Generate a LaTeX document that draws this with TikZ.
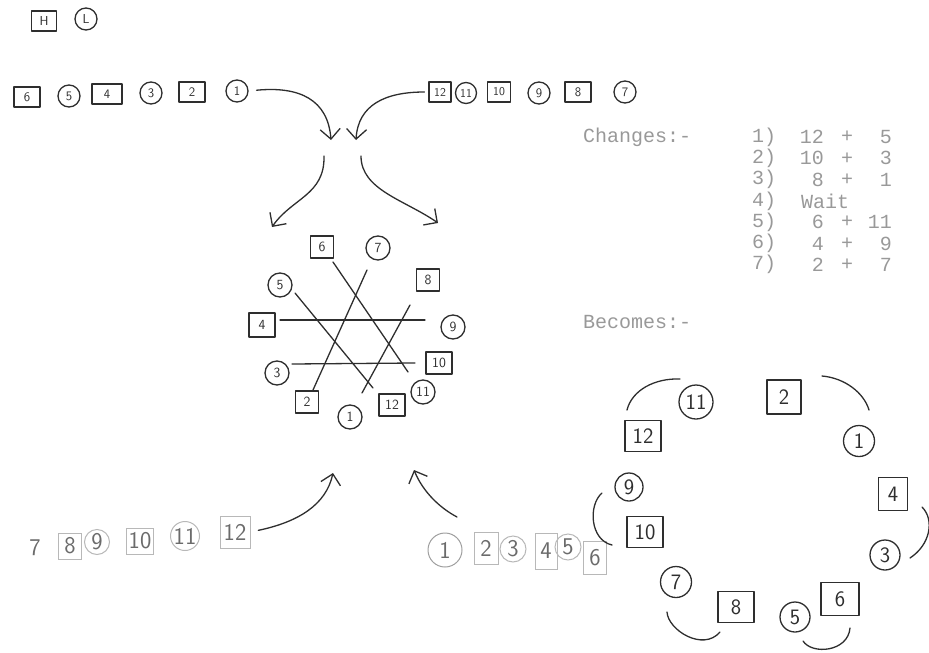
\documentclass[tikz,border=0pt]{standalone}
\usepackage{fontspec}
\setmonofont{Liberation Mono}
\usetikzlibrary{arrows.meta,calc}
\definecolor{ink}{gray}{0.18}
\definecolor{typeink}{gray}{0.6}
\definecolor{faintline}{gray}{0.72}
\definecolor{fainttext}{gray}{0.42}
\newcommand{\hwfont}[1]{\sffamily\fontsize{#1}{#1}\selectfont}

\begin{document}
\begin{tikzpicture}[x=1pt,y=-1pt,
  pen/.style={draw=ink, line width=1.3pt, line cap=round, line join=round},
  sq/.style={pen, rectangle, inner sep=0pt, text=ink},
  rd/.style={pen, circle, inner sep=0pt, text=ink},
  hand/.style={pen, -{Straight Barb[length=10pt,width=20pt,line width=1.3pt]}},
  tsq/.style={sq, minimum width=26pt, minimum height=20pt, font=\hwfont{13}},
  trd/.style={rd, minimum size=22pt, font=\hwfont{13}},
  ssq/.style={sq, minimum width=23pt, minimum height=22pt, font=\hwfont{14}},
  srd/.style={rd, minimum size=24pt, font=\hwfont{14}},
  osq/.style={sq, minimum width=33pt, minimum height=30pt, font=\hwfont{22}},
  ord/.style={rd, minimum size=31pt, font=\hwfont{22}},
  bsq/.style={draw=faintline, line width=1pt, rectangle, inner sep=0pt, text=fainttext,
              minimum width=25pt, minimum height=30pt, font=\hwfont{24}},
  brd/.style={draw=faintline, line width=1pt, circle, inner sep=0pt, text=fainttext,
              minimum size=27pt, font=\hwfont{24}},
  typed/.style={text=typeink, font=\ttfamily\fontsize{20}{20}\selectfont, inner sep=0pt},
  bracket/.style={pen}
]
\useasboundingbox (0,0) rectangle (929,653);

% key: square = H, circle = L
\node[tsq, minimum width=25pt] (keyH) at (44,21) {H};
\node[trd] (keyL) at (86,19) {L};

% first row, 6 down to 1
\node[tsq] (a6) at (27,97) {6};
\node[trd] (a5) at (69,96) {5};
\node[tsq, minimum width=30pt] (a4) at (107,94) {4};
\node[trd] (a3) at (151,93) {3};
\node[tsq] (a2) at (192,92) {2};
\node[trd] (a1) at (237,91) {1};

% second row, 12 down to 7
\node[tsq, minimum width=22pt, font=\hwfont{12}] (b12) at (440,92) {12};
\node[trd, minimum size=21pt, font=\hwfont{12}] (b11) at (466,93) {11};
\node[tsq, minimum width=23pt, font=\hwfont{12}] (b10) at (499,92) {10};
\node[trd] (b9) at (539,93) {9};
\node[tsq] (b8) at (578,92) {8};
\node[trd] (b7) at (625,92) {7};

% merging and splitting arrows
\coordinate (mergeL) at (331,140);
\coordinate (mergeR) at (356,140);
\coordinate (splitL) at (324,156);
\coordinate (splitR) at (361,156);
\coordinate (tipL) at (272,227);
\coordinate (tipR) at (438,223);
\draw[hand, shorten <=8pt] (a1.east) .. controls (300,86) and (328,100) .. (mergeL);
\draw[hand, shorten <=4pt] (b12.west) .. controls (385,92) and (358,105) .. (mergeR);
\draw[hand] (splitL) .. controls (325,195) and (292,198) .. (tipL);
\draw[hand] (splitR) .. controls (361,190) and (405,200) .. (tipR);

% the star of six chords
\node[ssq] (s6) at (322,247) {6};
\node[srd] (s7) at (378,248) {7};
\node[ssq] (s8) at (428,280) {8};
\node[srd] (s9) at (453,327) {9};
\node[ssq, minimum width=26pt] (s10) at (439,363) {10};
\node[srd] (s11) at (423,392) {11};
\node[ssq, minimum width=26pt] (s12) at (392,405) {12};
\node[srd] (s1) at (350,417) {1};
\node[ssq] (s2) at (307,402) {2};
\node[srd] (s3) at (277,373) {3};
\node[ssq, minimum width=26pt, minimum height=24pt] (s4) at (262,325) {4};
\node[srd] (s5) at (280,285) {5};

\draw[pen] ($(s6)+(11,15)$) -- ($(s11)+(-15,-20)$);
\draw[pen] ($(s7)+(-11,22)$) -- ($(s2)+(6,-12)$);
\draw[pen] ($(s5)+(15,8)$) -- ($(s12)+(-19,-17)$);
\draw[pen] ($(s4)+(18,-5)$) -- ($(s9)+(-28,-7)$);
\draw[pen] ($(s3)+(15,-9)$) -- ($(s10)+(-24,0)$);
\draw[pen] ($(s8)+(-18,25)$) -- ($(s1)+(12,-24)$);

% list of changes
\node[typed, anchor=west] (chg) at (583,137) {Changes:-};
\foreach \i/\l/\r in {1/12/5, 2/10/3, 3/8/1, 5/6/11, 6/4/9, 7/2/7}{
  \pgfmathsetmacro{\rowy}{137+21.3*(\i-1)}
  \node[typed, anchor=west] (lab\i) at (752,\rowy) {\i)};
  \node[typed, anchor=east] (lft\i) at (824,\rowy) {\l};
  \node[typed] (pls\i) at (847,\rowy) {+};
  \node[typed, anchor=east] (rgt\i) at (892,\rowy) {\r};
}
\node[typed, anchor=west] (lab4) at (752,201) {4)};
\node[typed, anchor=west] (wait) at (801,201) {Wait};
\node[typed, anchor=west] (bec) at (583,322) {Becomes:-};

% lower left row 7 to 12
\node[text=fainttext, font=\hwfont{24}, inner sep=0pt] (c7) at (35,548) {7};
\node[bsq, minimum width=23pt, minimum height=26pt] (c8) at (70,546) {8};
\node[brd, minimum size=25pt] (c9) at (97,542) {9};
\node[bsq, minimum width=27pt, minimum height=26pt] (c10) at (140,541) {10};
\node[brd, minimum size=29pt] (c11) at (185,536) {11};
\node[bsq, minimum width=30pt, minimum height=32pt] (c12) at (235,532) {12};
\coordinate (upL) at (333,473);
\draw[hand, shorten <=8pt] (c12.east) .. controls (298,522) and (326,505) .. (upL);

% lower middle row 1 to 6
\node[brd, draw=gray!75, minimum size=34pt] (d1) at (445,550) {1};
\node[bsq, minimum width=24pt, minimum height=32pt] (d2) at (486,548) {2};
\node[brd, minimum size=26pt] (d3) at (513,549) {3};
\node[bsq, minimum width=22pt, minimum height=36pt] (d4) at (546,551) {4};
\node[brd, minimum size=26pt] (d5) at (568,547) {5};
\node[bsq, minimum width=23pt, minimum height=33pt] (d6) at (595,558) {6};
\coordinate (upStart) at (457,517);
\coordinate (upR) at (414,470);
\draw[hand] (upStart) .. controls (440,508) and (423,492) .. (upR);

% resulting ring
\node[ord, minimum size=34pt] (r11) at (696,402) {11};
\node[osq, minimum width=34pt, minimum height=34pt] (r2) at (784,397) {2};
\node[ord] (r1) at (859,441) {1};
\node[osq, minimum width=29pt, minimum height=33pt] (r4) at (893,494) {4};
\node[ord, minimum size=30pt] (r3) at (885,555) {3};
\node[osq, minimum width=38pt, minimum height=33pt] (r6) at (840,599) {6};
\node[ord, minimum size=30pt] (r5) at (795,617) {5};
\node[osq, minimum width=36pt, minimum height=31pt] (r8) at (736,607) {8};
\node[ord] (r7) at (676,582) {7};
\node[osq, minimum width=36pt, minimum height=31pt] (r10) at (645,532) {10};
\node[ord, minimum size=28pt] (r9) at (629,487) {9};
\node[osq, minimum width=36pt, minimum height=31pt] (r12) at (643,436) {12};

% brackets joining the pairs of the ring
\coordinate (p1a) at (627,410); \coordinate (p1b) at (680,379);
\coordinate (p2a) at (822,376); \coordinate (p2b) at (869,410);
\coordinate (p3a) at (922,507); \coordinate (p3b) at (910,558);
\coordinate (p4a) at (602,493); \coordinate (p4b) at (612,545);
\coordinate (p5a) at (667,612); \coordinate (p5b) at (720,632);
\coordinate (p6a) at (803,641); \coordinate (p6b) at (850,628);
\draw[bracket] (p1a) .. controls (632,390) and (655,378) .. (p1b);
\draw[bracket] (p2a) .. controls (845,378) and (864,393) .. (p2b);
\draw[bracket] (p3a) .. controls (935,520) and (930,545) .. (p3b);
\draw[bracket] (p4a) .. controls (588,505) and (590,540) .. (p4b);
\draw[bracket] (p5a) .. controls (668,630) and (703,652) .. (p5b);
\draw[bracket] (p6a) .. controls (812,655) and (848,652) .. (p6b);
\end{tikzpicture}
\end{document}
